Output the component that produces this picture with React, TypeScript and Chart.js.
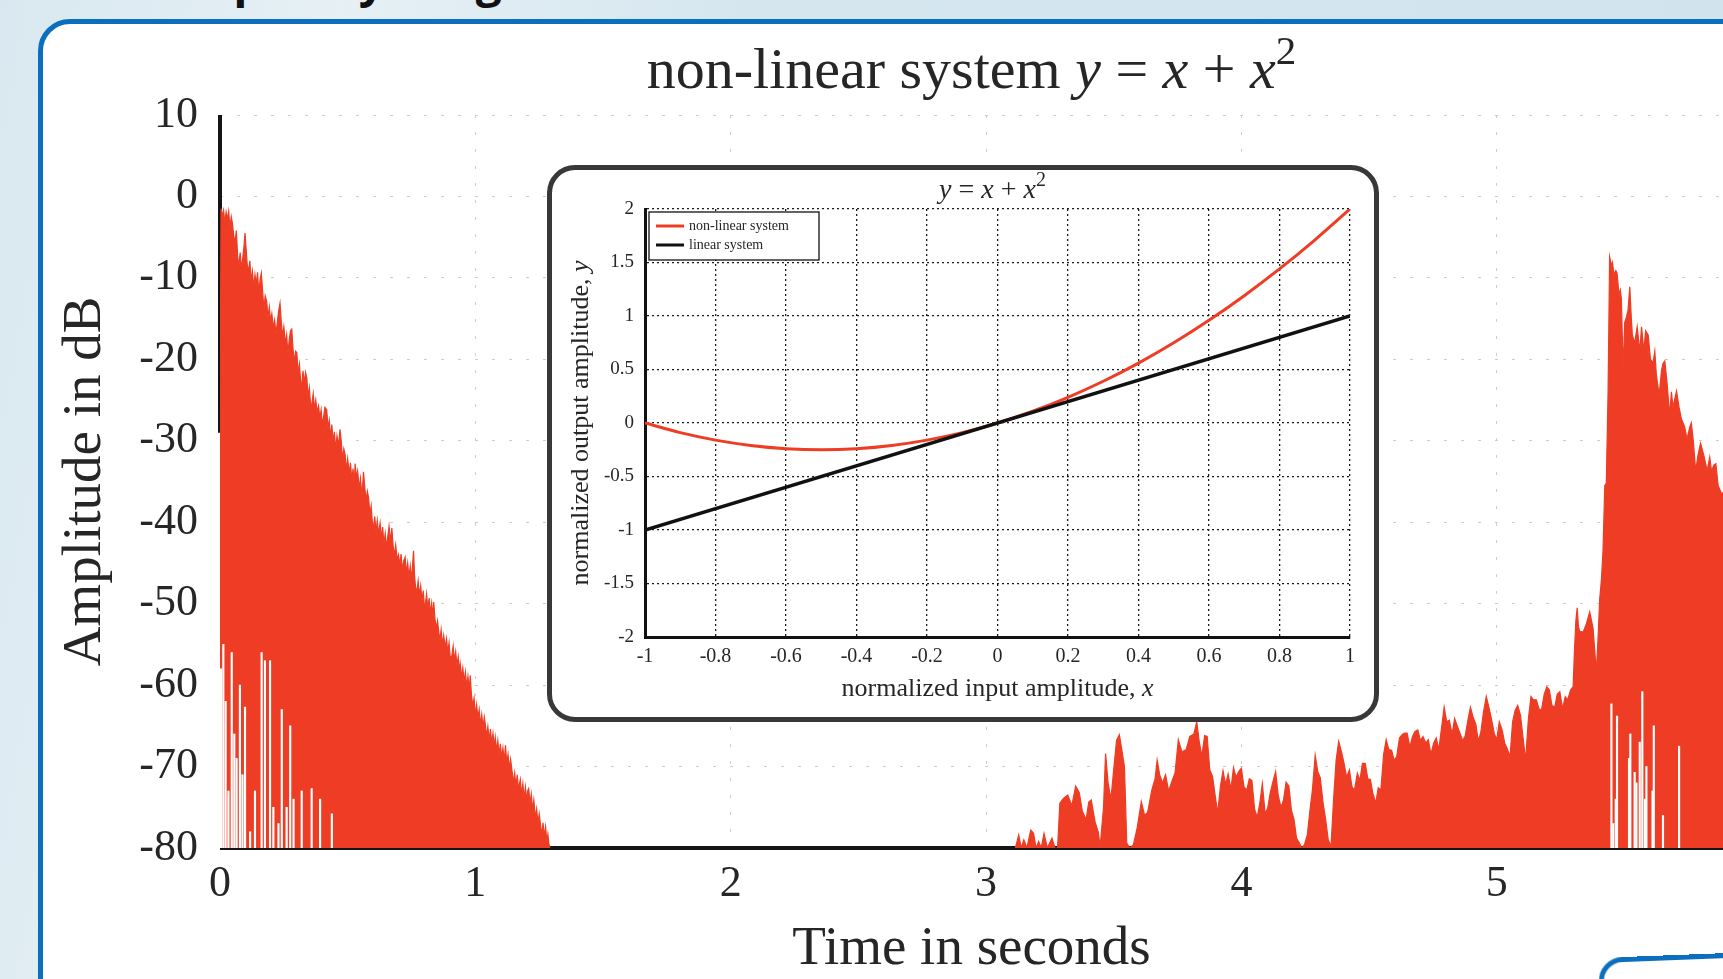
import React, { useEffect, useRef } from "react";
import { Chart, registerables } from "chart.js";

Chart.register(...registerables);

// ---------------- main chart data ----------------
const timeTicks = [0, 1, 2, 3, 4, 5];
const dbTicks = [10, 0, -10, -20, -30, -40, -50, -60, -70, -80];
const TIME_MIN = 0;
const TIME_MAX = 5.886;
const DB_MIN = -80;
const DB_MAX = 10;

const mainTitleParts: { text: string; italic?: boolean; sup?: boolean }[] = [
  { text: "non-linear system " },
  { text: "y", italic: true },
  { text: " = " },
  { text: "x", italic: true },
  { text: " + " },
  { text: "x", italic: true },
  { text: "2", sup: true },
];
const xAxisTitle = "Time in seconds";
const yAxisTitle = "Amplitude in dB";
const slideHeading = "Frequency range";

// linear system output (black): impulse at t = 0, then floor
const linearSystemLine: [number, number | null][] = [
  [0, 10], [0, -29], [0, null], [0, -80], [5.95, -80],
];

// non-linear system output (red), first burst: [time s, dB]
const redBurstA: [number, number][] = [
  [0, -29.5], [0.004, -1.5], [0.009, -2.4], [0.014, -1.7], [0.019, -3.2], [0.024, -1.9], [0.029, -2.8], [0.034, -1.8],
  [0.039, -3.9], [0.044, -2.5], [0.049, -3.4], [0.054, -4.9], [0.059, -5.6], [0.064, -4.2], [0.069, -7.3], [0.074, -8.6],
  [0.079, -6.9], [0.084, -8.9], [0.089, -7.6], [0.094, -6.1], [0.098, -4.5], [0.102, -6.3], [0.107, -8.5], [0.112, -9.1],
  [0.117, -7.9], [0.122, -10.4], [0.127, -9.2], [0.132, -11.3], [0.137, -9.6], [0.142, -10.8], [0.147, -9.3], [0.152, -11.9],
  [0.157, -10.2], [0.162, -9.4], [0.167, -11.7], [0.172, -13.8], [0.177, -12.2], [0.183, -12.9], [0.188, -14.9], [0.193, -13.6],
  [0.198, -15.3], [0.203, -14.4], [0.209, -16.1], [0.214, -15.2], [0.219, -16.8], [0.224, -15.6], [0.229, -14.2], [0.235, -13.1],
  [0.24, -15.4], [0.245, -17.2], [0.25, -16.0], [0.256, -18.1], [0.261, -17.0], [0.266, -19.3], [0.271, -17.6], [0.276, -16.5],
  [0.281, -16.3], [0.286, -18.7], [0.291, -20.4], [0.296, -19.0], [0.301, -19.2], [0.306, -21.8], [0.311, -20.6], [0.316, -22.7],
  [0.32, -23.3], [0.325, -21.4], [0.33, -22.9], [0.335, -21.6], [0.34, -22.3], [0.345, -24.6], [0.35, -23.5], [0.355, -25.8],
  [0.36, -25.4], [0.365, -24.2], [0.37, -26.1], [0.375, -25.0], [0.38, -26.4], [0.386, -25.7], [0.391, -27.3], [0.396, -26.2],
  [0.401, -28.1], [0.406, -27.0], [0.411, -25.9], [0.418, -26.2], [0.423, -28.4], [0.428, -27.5], [0.433, -29.6], [0.438, -28.0],
  [0.443, -30.2], [0.448, -28.9], [0.453, -31.1], [0.458, -29.4], [0.464, -30.6], [0.47, -28.6], [0.475, -30.1], [0.48, -32.4],
  [0.485, -31.0], [0.49, -31.7], [0.495, -33.6], [0.5, -32.2], [0.506, -34.1], [0.511, -32.7], [0.516, -34.8], [0.521, -33.4],
  [0.526, -35.6], [0.529, -32.8], [0.534, -34.5], [0.539, -33.7], [0.545, -35.9], [0.55, -34.6], [0.556, -36.8], [0.562, -33.8],
  [0.567, -35.7], [0.572, -37.4], [0.577, -36.2], [0.582, -37.0], [0.587, -39.1], [0.592, -38.0], [0.597, -40.2], [0.601, -40.7],
  [0.606, -39.3], [0.611, -41.2], [0.616, -39.8], [0.621, -41.5], [0.627, -40.1], [0.632, -42.0], [0.637, -40.6], [0.642, -42.7],
  [0.647, -41.4], [0.652, -43.1], [0.657, -41.8], [0.662, -40.5], [0.668, -42.4], [0.673, -40.7], [0.678, -42.9], [0.683, -44.1],
  [0.688, -42.8], [0.694, -44.6], [0.699, -44.0], [0.704, -45.3], [0.709, -43.9], [0.714, -45.8], [0.72, -44.7], [0.725, -44.3],
  [0.73, -46.2], [0.735, -45.0], [0.74, -46.8], [0.745, -45.4], [0.75, -47.1], [0.755, -44.9], [0.758, -43.5], [0.762, -46.6],
  [0.766, -48.0], [0.771, -48.5], [0.776, -47.2], [0.781, -49.0], [0.786, -47.8], [0.791, -49.6], [0.796, -48.4], [0.8, -50.3],
  [0.804, -50.1], [0.809, -48.8], [0.814, -50.7], [0.819, -49.3], [0.824, -51.2], [0.829, -49.9], [0.834, -51.6], [0.837, -49.8],
  [0.842, -51.9], [0.847, -53.0], [0.852, -52.1], [0.856, -53.3], [0.861, -54.5], [0.866, -53.2], [0.871, -55.1], [0.876, -53.9],
  [0.882, -55.4], [0.887, -54.3], [0.892, -56.0], [0.897, -54.8], [0.902, -56.7], [0.908, -56.4], [0.913, -55.2], [0.918, -57.0],
  [0.923, -55.9], [0.928, -57.6], [0.933, -56.5], [0.938, -58.2], [0.941, -57.4], [0.946, -59.1], [0.951, -57.9], [0.956, -59.6],
  [0.961, -58.4], [0.966, -60.2], [0.971, -58.9], [0.976, -60.6], [0.98, -58.8], [0.985, -61.3], [0.99, -62.5], [0.995, -61.6],
  [1.0, -63.7], [1.005, -62.4], [1.01, -64.1], [1.015, -63.0], [1.02, -64.9], [1.025, -63.6], [1.03, -65.2], [1.035, -63.9],
  [1.039, -64.8], [1.044, -66.3], [1.049, -65.1], [1.054, -66.8], [1.059, -65.4], [1.064, -67.2], [1.069, -65.9], [1.074, -67.5],
  [1.078, -66.4], [1.083, -68.1], [1.088, -66.8], [1.093, -68.6], [1.098, -67.2], [1.103, -69.0], [1.108, -67.7], [1.113, -69.4],
  [1.118, -67.4], [1.123, -69.6], [1.128, -68.5], [1.133, -70.3], [1.138, -69.1], [1.144, -70.6], [1.149, -72.0], [1.154, -70.8],
  [1.159, -72.4], [1.164, -71.0], [1.169, -72.8], [1.176, -71.6], [1.181, -73.4], [1.186, -72.1], [1.191, -73.9], [1.196, -72.5],
  [1.201, -74.2], [1.205, -73.0], [1.209, -72.7], [1.214, -74.6], [1.219, -73.4], [1.224, -75.3], [1.229, -74.1], [1.235, -76.3],
  [1.24, -75.2], [1.245, -77.0], [1.25, -75.8], [1.255, -77.1], [1.26, -78.4], [1.265, -76.9], [1.27, -78.6], [1.275, -77.4],
  [1.28, -79.2], [1.284, -78.3], [1.288, -79.5], [1.292, -80],
];

// non-linear system output (red), second part: [time s, dB]
const redBurstB: [number, number][] = [
  [3.115, -80], [3.128, -78.4], [3.138, -80], [3.148, -79], [3.16, -80], [3.175, -77.8], [3.186, -78.2], [3.196, -80],
  [3.206, -79.2], [3.216, -80], [3.227, -78.2], [3.24, -80], [3.258, -78.8], [3.27, -80], [3.28, -80],
  [3.289, -74.5], [3.303, -73.9], [3.32, -73.5], [3.336, -74.8], [3.351, -72.4], [3.365, -73.2], [3.377, -75.5], [3.392, -76.5],
  [3.402, -74.4], [3.412, -74.1], [3.427, -76.8], [3.439, -78], [3.447, -79.8], [3.46, -75], [3.468, -68.4], [3.478, -72],
  [3.489, -74], [3.501, -70], [3.511, -66.8], [3.522, -66.1], [3.532, -68], [3.542, -70], [3.551, -79.4], [3.563, -80],
  [3.577, -79.6], [3.592, -77.5], [3.608, -74.3], [3.621, -76], [3.633, -75.6], [3.649, -72.9], [3.662, -71.5], [3.67, -69.2],
  [3.68, -71], [3.691, -72], [3.703, -71], [3.715, -73], [3.728, -71.8], [3.74, -70.8], [3.753, -66.7], [3.767, -68.2],
  [3.784, -67.9], [3.798, -66.3], [3.814, -66], [3.825, -64.5], [3.835, -67], [3.845, -68.7], [3.856, -66.2], [3.866, -66.3],
  [3.876, -70.4], [3.887, -71.2], [3.897, -73.5], [3.907, -75.7], [3.918, -72.4], [3.928, -70.5], [3.938, -72.2], [3.948, -70.9],
  [3.959, -72.8], [3.969, -70.1], [3.979, -71.3], [3.99, -70.6], [4.0, -70.2], [4.01, -72.5], [4.021, -72.9], [4.031, -71.5],
  [4.041, -71.7], [4.052, -75.3], [4.062, -76.2], [4.072, -74.5], [4.082, -72.1], [4.093, -75.8], [4.103, -75.1], [4.113, -73.2],
  [4.124, -71.8], [4.134, -70.6], [4.144, -73.5], [4.155, -75], [4.165, -74.1], [4.175, -71.9], [4.186, -72.4], [4.196, -75.4],
  [4.206, -76.5], [4.216, -78.8], [4.227, -79.4], [4.237, -80], [4.247, -79.6], [4.258, -78.4], [4.268, -75.5], [4.278, -72.9],
  [4.289, -68.6], [4.299, -70.6], [4.309, -71.4], [4.32, -74.5], [4.33, -76.5], [4.34, -79], [4.351, -79.8], [4.361, -74],
  [4.371, -69.2], [4.381, -66.9], [4.392, -68.2], [4.402, -69.6], [4.412, -71.3], [4.423, -70.4], [4.433, -72.5], [4.443, -72.9],
  [4.454, -70.8], [4.464, -71.7], [4.474, -69.6], [4.485, -69.6], [4.495, -71.5], [4.505, -71.6], [4.515, -73.3], [4.526, -74.5],
  [4.536, -72.6], [4.546, -72.9], [4.557, -68.5], [4.567, -66.7], [4.577, -67.9], [4.588, -68], [4.598, -69.2], [4.608, -68.8],
  [4.619, -66.5], [4.629, -66.1], [4.639, -65.9], [4.649, -65.9], [4.66, -67.6], [4.67, -66.3], [4.68, -65.7], [4.691, -65.5],
  [4.701, -66.8], [4.711, -66.3], [4.722, -67.1], [4.732, -66.7], [4.742, -68.5], [4.753, -67.1], [4.763, -66.5], [4.773, -67.9],
  [4.784, -65.2], [4.794, -62.7], [4.804, -64.5], [4.814, -64.3], [4.825, -66], [4.835, -64.1], [4.845, -65], [4.856, -65.9],
  [4.866, -66.8], [4.876, -66.3], [4.887, -64.3], [4.897, -62.7], [4.907, -63.9], [4.918, -64.8], [4.928, -66.9], [4.938, -65.7],
  [4.948, -63.3], [4.959, -61.4], [4.969, -62.7], [4.979, -64.1], [4.99, -65.9], [5.0, -66.7], [5.01, -64.5], [5.021, -65.5],
  [5.031, -67.1], [5.041, -67.8], [5.052, -68.8], [5.062, -64.5], [5.072, -63.1], [5.082, -62.5], [5.093, -63.7], [5.103, -66.5],
  [5.113, -69.2], [5.124, -64.1], [5.134, -61.4], [5.144, -61.8], [5.155, -61.8], [5.165, -62.9], [5.175, -63.1], [5.186, -61.1],
  [5.196, -60.2], [5.206, -60.6], [5.216, -62.5], [5.227, -62.7], [5.237, -61.1], [5.247, -60.8], [5.258, -62.9], [5.268, -61.4],
  [5.278, -61.8], [5.289, -60.6], [5.299, -60.2], [5.304, -56], [5.31, -52], [5.315, -50.5], [5.32, -52.8],
  [5.325, -53.4], [5.338, -53.5], [5.351, -52.5], [5.364, -51], [5.377, -53], [5.39, -58.4], [5.397, -54], [5.403, -49.5],
  [5.41, -47], [5.416, -43.6], [5.423, -35.5], [5.429, -35.2], [5.436, -23.9], [5.442, -7.4], [5.449, -8.5], [5.453, -8.1],
  [5.459, -9.6], [5.466, -9.1], [5.471, -9.4], [5.479, -12.1], [5.484, -11.5], [5.488, -12.6], [5.495, -21.4], [5.501, -15.5],
  [5.508, -14.8], [5.514, -14], [5.521, -11.1], [5.527, -15], [5.531, -17], [5.54, -18], [5.55, -16], [5.56, -19],
  [5.567, -16], [5.576, -19], [5.583, -16.5], [5.593, -17], [5.602, -20], [5.612, -20.4], [5.619, -19], [5.625, -21.9],
  [5.636, -24.4], [5.645, -21.4], [5.651, -20.5], [5.658, -20.2], [5.667, -22.9], [5.677, -26.8], [5.684, -24], [5.69, -25.9],
  [5.704, -23.9], [5.714, -25.9], [5.723, -27.3], [5.736, -28.3], [5.745, -29.8], [5.756, -28.3], [5.762, -27.8], [5.769, -29.8],
  [5.779, -33.7], [5.788, -31.8], [5.798, -30.3], [5.811, -31.8], [5.824, -33.7], [5.834, -32], [5.841, -33.7], [5.85, -33],
  [5.858, -32.8], [5.867, -35.5], [5.88, -36.5], [5.9, -36],
];

// narrow drop-outs at the bottom of the red area: [time s, dB reached by the drop-out]
const dropoutsA: [number, number][] = [
  [0.004, -58], [0.013, -55], [0.022, -62], [0.033, -73], [0.046, -56], [0.056, -66], [0.065, -69], [0.078, -60],
  [0.088, -71], [0.098, -62.7], [0.118, -78], [0.137, -73], [0.163, -56], [0.176, -57], [0.196, -57], [0.209, -75],
  [0.229, -77], [0.242, -63], [0.261, -75], [0.275, -65], [0.288, -74], [0.32, -73], [0.359, -72.7], [0.392, -74],
  [0.438, -75.8],
];
const dropoutsC: [number, number][] = [
  [5.449, -62.3], [5.456, -77], [5.466, -74], [5.471, -63.8], [5.518, -69], [5.523, -66], [5.54, -70.7], [5.547, -72],
  [5.56, -67], [5.57, -60.8], [5.58, -74], [5.586, -70], [5.61, -73], [5.615, -65], [5.651, -76], [5.714, -67.5],
];

// ---------------- inset data ----------------
const insetTitleParts: { text: string; italic?: boolean; sup?: boolean }[] = [
  { text: "y", italic: true }, { text: " = " }, { text: "x", italic: true }, { text: " + " },
  { text: "x", italic: true }, { text: "2", sup: true },
];
const insetXTitleParts: { text: string; italic?: boolean }[] = [
  { text: "normalized input amplitude, " }, { text: "x", italic: true },
];
const insetYTitleParts: { text: string; italic?: boolean }[] = [
  { text: "normalized output amplitude, " }, { text: "y", italic: true },
];
const insetLegendLabels = ["non-linear system", "linear system"];

const insetX = [-1, -0.9, -0.8, -0.7, -0.6, -0.5, -0.4, -0.3, -0.2, -0.1, 0, 0.1, 0.2, 0.3, 0.4, 0.5, 0.6, 0.7, 0.8, 0.9, 1];
const insetNonLinearY = [0, -0.09, -0.16, -0.21, -0.24, -0.25, -0.24, -0.21, -0.16, -0.09, 0, 0.11, 0.24, 0.39, 0.56, 0.75, 0.96, 1.19, 1.44, 1.71, 2];
const insetLinearX = [-1, 1];
const insetLinearY = [-1, 1];
const insetXTickValues = [-1, -0.8, -0.6, -0.4, -0.2, 0, 0.2, 0.4, 0.6, 0.8, 1];
const insetXTickLabels = ["-1", "-0.8", "-0.6", "-0.4", "-0.2", "0", "0.2", "0.4", "0.6", "0.8", "1"];
const insetYTickValues = [-2, -1.5, -1, -0.5, 0, 0.5, 1, 1.5, 2];
const insetYTickLabels = ["-2", "-1.5", "-1", "-0.5", "0", "0.5", "1", "1.5", "2"];

// ---------------- styles ----------------
const SERIF = '"Liberation Serif", "Times New Roman", serif';
const RED = "#ee3d24";
const INK = "#262626";

type Part = { text: string; italic?: boolean; sup?: boolean };

function drawParts(ctx: CanvasRenderingContext2D, parts: Part[], cx: number, cy: number, size: number, color: string) {
  const fontFor = (p: Part) =>
    `${p.italic ? "italic " : ""}${p.sup ? Math.round(size * 0.7) : size}px ${SERIF}`;
  let total = 0;
  for (const p of parts) {
    ctx.font = fontFor(p);
    total += ctx.measureText(p.text).width;
  }
  let x = cx - total / 2;
  ctx.fillStyle = color;
  ctx.textBaseline = "alphabetic";
  ctx.textAlign = "left";
  for (const p of parts) {
    ctx.font = fontFor(p);
    ctx.fillText(p.text, x, cy + (p.sup ? -size * 0.42 : 0));
    x += ctx.measureText(p.text).width;
  }
}

const mainTitlePlugin = {
  id: "mainTitle",
  afterDraw(chart: any) {
    const { ctx, chartArea } = chart;
    ctx.save();
    drawParts(ctx, mainTitleParts, (chartArea.left + chartArea.right) / 2, 88, 58, INK);
    ctx.restore();
  },
};

const insetDecorPlugin = {
  id: "insetDecor",
  afterDraw(chart: any) {
    const { ctx, chartArea: ca } = chart;
    ctx.save();
    const cx = (ca.left + ca.right) / 2;
    drawParts(ctx, insetTitleParts, cx - 5, 28, 28, INK);
    drawParts(ctx, insetXTitleParts, cx, ca.bottom + 59, 26, INK);
    ctx.translate(27, (ca.top + ca.bottom) / 2);
    ctx.rotate(-Math.PI / 2);
    drawParts(ctx, insetYTitleParts, 0, 9, 26, INK);
    ctx.restore();

    // legend
    ctx.save();
    const bx = ca.left + 4;
    const by = ca.top + 3;
    const bw = 170;
    const bh = 48;
    ctx.fillStyle = "#ffffff";
    ctx.fillRect(bx, by, bw, bh);
    ctx.strokeStyle = "#111";
    ctx.lineWidth = 1.3;
    ctx.strokeRect(bx, by, bw, bh);
    const colors = [RED, "#111"];
    insetLegendLabels.forEach((label, i) => {
      const y = by + 14 + i * 19;
      ctx.strokeStyle = colors[i];
      ctx.lineWidth = 3;
      ctx.beginPath();
      ctx.moveTo(bx + 7, y);
      ctx.lineTo(bx + 35, y);
      ctx.stroke();
      ctx.fillStyle = INK;
      ctx.font = `14px ${SERIF}`;
      ctx.textBaseline = "middle";
      ctx.textAlign = "left";
      ctx.fillText(label, bx + 40, y);
    });
    ctx.restore();
  },
};

function MainChart() {
  const ref = useRef<HTMLCanvasElement | null>(null);
  useEffect(() => {
    if (!ref.current) return;
    const chart = new Chart(ref.current, {
      type: "line",
      data: {
        datasets: [
          {
            type: "line",
            label: "linear system",
            data: linearSystemLine.map(([x, y]) => ({ x, y })),
            borderColor: "#151515",
            borderWidth: 4,
            pointRadius: 0,
            fill: false,
            spanGaps: false,
            clip: { left: 10, right: 10, top: 0, bottom: 10 },
            order: 3,
          },
          {
            type: "line",
            label: "non-linear system",
            data: redBurstA.map(([x, y]) => ({ x, y })),
            borderColor: RED,
            backgroundColor: RED,
            borderWidth: 1.2,
            pointRadius: 0,
            fill: "start",
            tension: 0,
            order: 2,
          },
          {
            type: "line",
            label: "non-linear system (2)",
            data: redBurstB.map(([x, y]) => ({ x, y })),
            borderColor: RED,
            backgroundColor: RED,
            borderWidth: 1.2,
            pointRadius: 0,
            fill: "start",
            tension: 0,
            order: 2,
          },
          {
            type: "bar",
            label: "drop-outs",
            data: [...dropoutsA, ...dropoutsC].map(([x, top]) => ({ x, y: [DB_MIN, top] })),
            backgroundColor: "#ffffff",
            borderWidth: 0,
            barThickness: 1.5,
            grouped: false,
            order: 1,
          } as any,
        ],
      },
      options: {
        responsive: false,
        animation: false,
        events: [],
        layout: { padding: { top: 115, left: 0, right: 0, bottom: 0 } },
        plugins: { legend: { display: false }, tooltip: { enabled: false }, title: { display: false } },
        scales: {
          x: {
            type: "linear",
            min: TIME_MIN,
            max: TIME_MAX,
            offset: false,
            afterBuildTicks: (s: any) => {
              s.ticks = timeTicks.map((v) => ({ value: v }));
            },
            afterFit: (s: any) => {
              s.height = 131;
            },
            ticks: {
              font: { family: SERIF, size: 44 },
              color: INK,
              padding: 10,
              maxRotation: 0,
              autoSkip: false,
              callback: (v: any) => String(v),
            },
            grid: { color: "#cdcdcd", lineWidth: 1, drawTicks: false, offset: false },
            border: { display: false, dash: [3, 14] },
            title: {
              display: true,
              text: xAxisTitle,
              font: { family: SERIF, size: 55, lineHeight: 1 },
              color: INK,
              padding: { top: 0, bottom: 2 },
            },
          },
          y: {
            type: "linear",
            min: DB_MIN,
            max: DB_MAX,
            afterBuildTicks: (s: any) => {
              s.ticks = dbTicks.map((v) => ({ value: v }));
            },
            afterFit: (s: any) => {
              s.width = 220;
            },
            ticks: {
              font: { family: SERIF, size: 44 },
              color: INK,
              padding: 22,
              autoSkip: false,
              callback: (v: any) => String(v),
            },
            grid: { color: "#cdcdcd", lineWidth: 1, drawTicks: false },
            border: { display: false, dash: [3, 14] },
            title: {
              display: true,
              text: yAxisTitle,
              font: { family: SERIF, size: 55, lineHeight: 1 },
              color: INK,
              padding: { top: 58, bottom: 0 },
            },
          },
        },
      } as any,
      plugins: [mainTitlePlugin],
    });
    return () => chart.destroy();
  }, []);
  return (
    <canvas
      ref={ref}
      width={1723}
      height={979}
      style={{ position: "absolute", left: 0, top: 0, width: 1723, height: 979 }}
    />
  );
}

function InsetChart() {
  const ref = useRef<HTMLCanvasElement | null>(null);
  useEffect(() => {
    if (!ref.current) return;
    const chart = new Chart(ref.current, {
      type: "line",
      data: {
        datasets: [
          {
            label: insetLegendLabels[0],
            data: insetX.map((x, i) => ({ x, y: insetNonLinearY[i] })),
            borderColor: RED,
            borderWidth: 3,
            pointRadius: 0,
            cubicInterpolationMode: "monotone",
            fill: false,
            order: 2,
          },
          {
            label: insetLegendLabels[1],
            data: insetLinearX.map((x, i) => ({ x, y: insetLinearY[i] })),
            borderColor: "#111",
            borderWidth: 3.5,
            pointRadius: 0,
            fill: false,
            order: 1,
          },
        ],
      },
      options: {
        responsive: false,
        animation: false,
        events: [],
        layout: { padding: { top: 39, right: 24, bottom: 0, left: 0 } },
        plugins: { legend: { display: false }, tooltip: { enabled: false }, title: { display: false } },
        scales: {
          x: {
            type: "linear",
            min: -1,
            max: 1,
            afterBuildTicks: (s: any) => {
              s.ticks = insetXTickValues.map((v) => ({ value: v }));
            },
            afterFit: (s: any) => {
              s.height = 80;
            },
            ticks: {
              font: { family: SERIF, size: 20 },
              color: INK,
              padding: 8,
              maxRotation: 0,
              autoSkip: false,
              callback: (_v: any, i: number) => insetXTickLabels[i],
            },
            grid: { color: "#1a1a1a", lineWidth: 1.3, drawTicks: false },
            border: { display: true, color: "#111", width: 3, dash: [2, 3] },
          },
          y: {
            type: "linear",
            min: -2,
            max: 2,
            afterBuildTicks: (s: any) => {
              s.ticks = insetYTickValues.map((v) => ({ value: v }));
            },
            afterFit: (s: any) => {
              s.width = 93;
            },
            ticks: {
              font: { family: SERIF, size: 19 },
              color: INK,
              padding: 11,
              autoSkip: false,
              callback: (_v: any, i: number) => insetYTickLabels[i],
            },
            grid: { color: "#1a1a1a", lineWidth: 1.3, drawTicks: false },
            border: { display: true, color: "#111", width: 3, dash: [2, 3] },
          },
        },
      } as any,
      plugins: [insetDecorPlugin],
    });
    return () => chart.destroy();
  }, []);
  return <canvas ref={ref} width={822} height={547} style={{ display: "block", width: 822, height: 547 }} />;
}

export default function App() {
  return (
    <div
      style={{
        position: "fixed",
        inset: 0,
        overflow: "hidden",
        background: "linear-gradient(100deg, #d9e8f0 0%, #e6f0f5 18%, #d5e6ef 40%, #d1e4ee 100%)",
      }}
    >
      <div
        style={{
          position: "absolute",
          left: 145,
          top: -44,
          fontFamily: '"Open Sans", sans-serif',
          fontWeight: 700,
          fontSize: 46,
          lineHeight: "46px",
          color: "#111",
          whiteSpace: "nowrap",
        }}
      >
        {slideHeading}
      </div>
      <div
        style={{
          position: "absolute",
          left: 38,
          top: 19,
          width: 2000,
          height: 1400,
          background: "#ffffff",
          border: "5px solid #0b6fbd",
          borderRadius: 32,
          boxSizing: "border-box",
        }}
      />
      <MainChart />
      <div
        style={{
          position: "absolute",
          left: 547,
          top: 165,
          width: 832,
          height: 557,
          boxSizing: "border-box",
          border: "5px solid #383838",
          borderRadius: 28,
          background: "#ffffff",
          overflow: "hidden",
        }}
      >
        <InsetChart />
      </div>
      <div
        style={{
          position: "absolute",
          left: 1598,
          top: 958,
          width: 400,
          height: 200,
          boxSizing: "border-box",
          border: "5px solid #0b6fbd",
          borderRadius: 24,
          background: "#ffffff",
          transform: "rotate(-2.2deg)",
          transformOrigin: "0 0",
        }}
      />
    </div>
  );
}
